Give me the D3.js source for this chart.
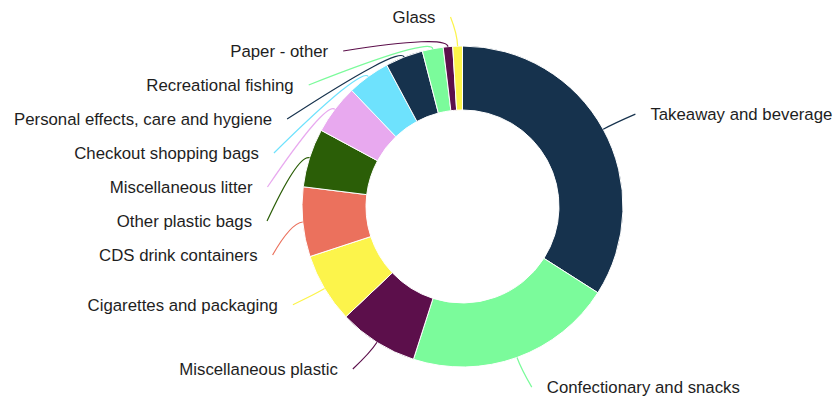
<!DOCTYPE html>
<html><head><meta charset="utf-8">
<script src="https://cdn.jsdelivr.net/npm/d3@7"></script>
<style>body{margin:0;background:#fff}svg{display:block}</style>
</head><body>
<svg id="chart" width="835" height="396"></svg>
<script>
const categories = ["Takeaway and beverage","Confectionary and snacks","Miscellaneous plastic","Cigarettes and packaging","CDS drink containers","Other plastic bags","Miscellaneous litter","Checkout shopping bags","Personal effects, care and hygiene","Recreational fishing","Paper - other","Glass"];
const values = [34.0, 20.9, 8.0, 7.0, 7.0, 5.9, 5.0, 4.3, 3.8, 2.1, 0.95, 0.97];
const palette = ["#16324d","#7bfb9b","#5c0f4b","#fcf44b","#eb715d","#2b5e07","#e8a9ef","#6ee2fd"];

const W = 835, H = 396;
const cx = 462.5, cy = 206.5, rOuter = 160.5, rInner = 96.5;
const svg = d3.select("#chart");
const g = svg.append("g").attr("transform", `translate(${cx},${cy})`);

const data = categories.map((c, i) => ({name: c, value: values[i]}));
const pie = d3.pie().value(d => d.value).sort(null).startAngle(0).endAngle(2*Math.PI);
const arcs = pie(data);
const arc = d3.arc().innerRadius(rInner).outerRadius(rOuter);
const color = d3.scaleOrdinal().domain(d3.range(categories.length)).range(palette);

g.selectAll("path.slice").data(arcs).join("path")
  .attr("class","slice")
  .attr("d", arc)
  .attr("fill", (d,i) => color(i % palette.length))
  .attr("stroke", "#fff").attr("stroke-width", 1);

// label layout
const RL = 192, RE = 196, spacing = 34, minY = 17 - cy;
const labels = arcs.map((d,i) => {
  const a = (d.startAngle + d.endAngle)/2;
  return {i, a, side: Math.sin(a) >= 0 ? 1 : -1, y: -RL*Math.cos(a), name: d.data.name};
});
["right","left"].forEach(s => {
  const side = s === "right" ? 1 : -1;
  const list = labels.filter(l => l.side === side).sort((p,q) => p.y - q.y);
  let prev = -Infinity;
  list.forEach(l => {
    l.y = Math.max(l.y, minY, prev + spacing);
    prev = l.y;
  });
});
labels.forEach(l => {
  const ratio = Math.abs(l.y)/RE;
  if (ratio < 0.9) l.x = l.side*Math.sqrt(RE*RE - l.y*l.y);
  else l.x = l.side*Math.max(Math.abs(204*Math.sin(l.a)), 12);
});

const rc = rOuter + 12;
g.selectAll("path.tick").data(labels).join("path")
  .attr("class","tick")
  .attr("fill","none")
  .attr("stroke", l => color(l.i % palette.length))
  .attr("stroke-width", 1.2)
  .attr("d", l => {
    const p0 = [rOuter*Math.sin(l.a), -rOuter*Math.cos(l.a)];
    const c = [rc*Math.sin(l.a), -rc*Math.cos(l.a)];
    return `M${p0[0]},${p0[1]}Q${c[0]},${c[1]} ${l.x},${l.y}`;
  });

g.selectAll("text.lbl").data(labels).join("text")
  .attr("class","lbl")
  .attr("x", l => l.x + l.side*15)
  .attr("y", l => l.y)
  .attr("dy","0.35em")
  .attr("text-anchor", l => l.side > 0 ? "start" : "end")
  .attr("font-family","'Liberation Sans', Arial, sans-serif")
  .attr("font-size","16.8px")
  .attr("fill","#1e1e1e")
  .text(l => l.name);
</script>
</body></html>
